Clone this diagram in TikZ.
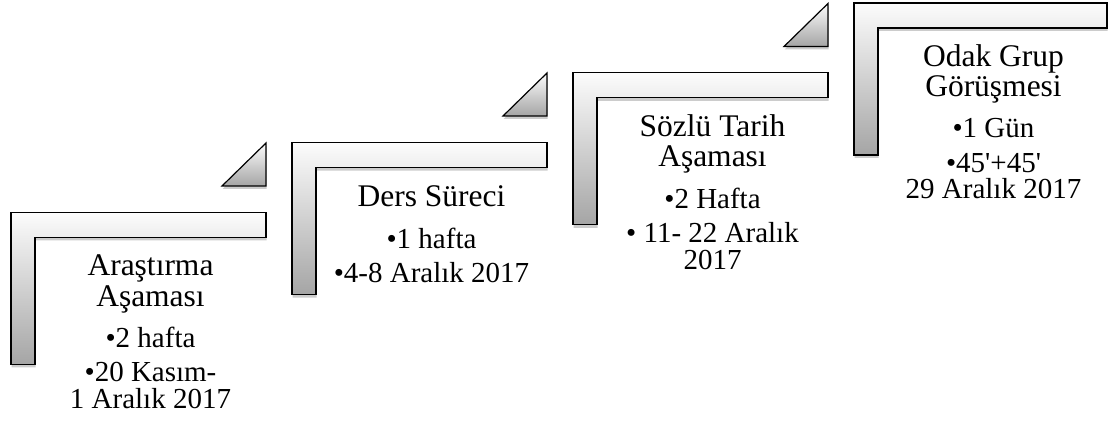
\documentclass[tikz,border=0pt]{standalone}
\usepackage{fontspec}
\newfontfamily\stepfont{Liberation Serif}
\usetikzlibrary{calc,shadows}
\definecolor{stepLine}{RGB}{0,0,0}
\definecolor{stepTop}{RGB}{252,252,252}
\definecolor{stepBottom}{RGB}{165,165,165}

\tikzset{
  stepbar/.style={draw=stepLine, line width=1.2pt, line join=miter,
    top color=stepTop, bottom color=stepBottom,
    drop shadow={shadow xshift=0.5pt, shadow yshift=-3pt, opacity=0.2, fill=black}},
  steptri/.style={stepbar},
  steptitle/.style={anchor=base, inner sep=0pt, font=\stepfont\fontsize{31.5}{33}\selectfont},
  stepitem/.style={anchor=base, inner sep=0pt, font=\stepfont\fontsize{29}{31}\selectfont}
}

\begin{document}
\begin{tikzpicture}[x=1pt, y=-1pt]
  \useasboundingbox (0,0) rectangle (1109,425);

  % Step shapes
  \draw[stepbar] (11,212.4) -- ++(255,0) -- ++(0,25) -- ++(-231,0) -- ++(0,127) -- ++(-24,0) -- cycle;
  \draw[stepbar] (292,142.6) -- ++(255,0) -- ++(0,25) -- ++(-231,0) -- ++(0,127) -- ++(-24,0) -- cycle;
  \draw[stepbar] (573,72.8) -- ++(255,0) -- ++(0,25) -- ++(-231,0) -- ++(0,127) -- ++(-24,0) -- cycle;
  \draw[stepbar] (854,3) -- ++(253,0) -- ++(0,25) -- ++(-229,0) -- ++(0,127) -- ++(-24,0) -- cycle;

  % Small triangles
  \draw[steptri] (222,186) -- (266,186) -- (266,143) -- cycle;
  \draw[steptri] (503,116) -- (547,116) -- (547,73) -- cycle;
  \draw[steptri] (784,46.5) -- (828,46.5) -- (828,3.5) -- cycle;

  % Text anchors
  \coordinate (c1) at (150.5,212.4);
  \coordinate (c2) at (431.5,142.6);
  \coordinate (c3) at (712.5,72.8);
  \coordinate (c4) at (993.5,3);

  % Step 1
  \node[steptitle] (t1a) at ($(c1)+(0,63.5)$) {Araştırma};
  \node[steptitle] (t1b) at ($(c1)+(0,94)$) {Aşaması};
  \node[stepitem] (b1a) at ($(c1)+(0,135)$) {•2 hafta};
  \node[stepitem] (b1b) at ($(c1)+(0,169)$) {•20 Kasım-};
  \node[stepitem] (b1c) at ($(c1)+(0,196)$) {1 Aralık 2017};

  % Step 2
  \node[steptitle] (t2a) at ($(c2)+(0,63.5)$) {Ders Süreci};
  \node[stepitem] (b2a) at ($(c2)+(0,106)$) {•1 hafta};
  \node[stepitem] (b2b) at ($(c2)+(0,140)$) {•4-8 Aralık 2017};

  % Step 3
  \node[steptitle] (t3a) at ($(c3)+(0,63.5)$) {Sözlü Tarih};
  \node[steptitle] (t3b) at ($(c3)+(0,94)$) {Aşaması};
  \node[stepitem] (b3a) at ($(c3)+(0,136)$) {•2 Hafta};
  \node[stepitem] (b3b) at ($(c3)+(0,170)$) {• 11- 22 Aralık};
  \node[stepitem] (b3c) at ($(c3)+(0,197)$) {2017};

  % Step 4
  \node[steptitle] (t4a) at ($(c4)+(0,63.5)$) {Odak Grup};
  \node[steptitle] (t4b) at ($(c4)+(0,94)$) {Görüşmesi};
  \node[stepitem] (b4a) at ($(c4)+(0,135)$) {•1 Gün};
  \node[stepitem] (b4b) at ($(c4)+(0,169)$) {•45'+45'};
  \node[stepitem] (b4c) at ($(c4)+(0,196)$) {29 Aralık 2017};
\end{tikzpicture}
\end{document}
